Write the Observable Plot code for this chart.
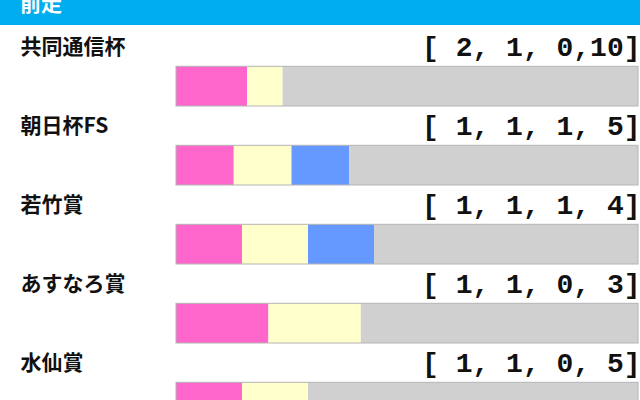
<!DOCTYPE html>
<html>
<head>
<meta charset="utf-8">
<script src="https://cdn.jsdelivr.net/npm/d3@7"></script>
<script src="https://cdn.jsdelivr.net/npm/@observablehq/plot@0.6"></script>
<style>
  html, body { margin: 0; padding: 0; background: #fff; }
  #header { position: relative; width: 640px; height: 25px; background: #00aeef; overflow: hidden; }
  #header span { position: absolute; left: 20px; top: -8px; font: bold 21px/21px "Noto Sans CJK JP", sans-serif; color: #fff; white-space: nowrap; }
  #chart svg { display: block; }
</style>
</head>
<body>
<div id="header"><span>前走</span></div>
<div id="chart"></div>
<script>
const headerTitle = "前走";
const races = ["共同通信杯", "朝日杯FS", "若竹賞", "あすなろ賞", "水仙賞"];
const categories = ["1着", "2着", "3着", "着外"];
const first  = [2, 1, 1, 1, 1];
const second = [1, 1, 1, 1, 1];
const third  = [0, 1, 1, 0, 0];
const others = [10, 5, 4, 3, 5];
const colors = ["#ff66cc", "#ffffcc", "#6699ff", "#d0d0d0"];

document.querySelector("#header span").textContent = headerTitle;

const series = [first, second, third, others];
const tidy = [];
races.forEach((race, i) => {
  categories.forEach((cat, j) => tidy.push({race, cat, value: series[j][i]}));
});
const rows = races.map((race, i) => ({
  race,
  label: "[" + series.map(s => String(s[i]).padStart(2, " ")).join(",") + "]"
}));

const chart = Plot.plot({
  width: 640,
  height: 375,
  margin: 0,
  x: {domain: [0, 1], range: [176, 638], axis: null},
  y: {domain: races, range: [1, 397.5], padding: 0, axis: null},
  color: {domain: categories, range: colors},
  style: {background: "#fff"},
  marks: [
    Plot.barX(tidy, Plot.stackX({
      x: "value", y: "race", fill: "cat", offset: "normalize", order: categories,
      insetTop: 39.3, insetBottom: 0
    })),
    Plot.barX(rows, {x1: 0, x2: 1, y: "race", fill: "none", stroke: "#b4b4b4", strokeWidth: 1,
      insetTop: 39.3, insetBottom: 0}),
    Plot.text(rows, {y: "race", text: "race", frameAnchor: "left", dx: 20, dy: -20,
      textAnchor: "start", fill: "#111", fontWeight: "bold", fontSize: 21,
      fontFamily: "Noto Sans CJK JP, sans-serif"}),
    Plot.text(rows, {y: "race", text: "label", frameAnchor: "right", dx: 0, dy: -20,
      textAnchor: "end", fill: "#111", fontWeight: "bold", fontSize: 28,
      fontFamily: "Liberation Mono, monospace", style: "white-space: pre"})
  ]
});
document.getElementById("chart").appendChild(chart);
</script>
</body>
</html>
